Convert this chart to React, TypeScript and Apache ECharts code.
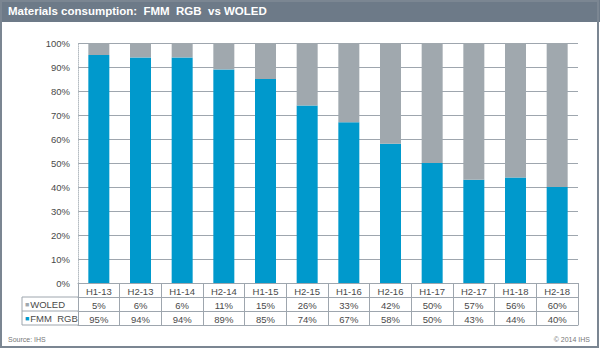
import React, { useEffect, useRef } from "react";
import * as echarts from "echarts";

const categories = ["H1-13", "H2-13", "H1-14", "H2-14", "H1-15", "H2-15", "H1-16", "H2-16", "H1-17", "H2-17", "H1-18", "H2-18"];
const fmmRgb = [95, 94, 94, 89, 85, 74, 67, 58, 50, 43, 44, 40];
const woled = [5, 6, 6, 11, 15, 26, 33, 42, 50, 57, 56, 60];
const yTicks = [0, 10, 20, 30, 40, 50, 60, 70, 80, 90, 100];

const BLUE = "#0099cc";
const GREY = "#a0a8ae";
const LINE = "#9ea6ae";
const TXT = "#4a4a4a";
const FONT = "'Liberation Sans', Arial, sans-serif";
const FS = 9.5;

export default function App() {
  const ref = useRef<HTMLDivElement>(null);
  useEffect(() => {
    if (!ref.current) return;
    const chart = echarts.init(ref.current, undefined, { renderer: "svg" });
    const gridLeft = 78;
    const gridRight = 22;
    const gridTop = 43;
    const gridBottom = 68;
    const baseY = 351 - gridBottom;
    const rowH = 14;
    const tableAxis = (data: string[], offset: number, showLabel: boolean) => ({
      type: "category" as const,
      position: "bottom" as const,
      gridIndex: 0,
      offset,
      data,
      axisLine: { show: true, lineStyle: { color: LINE, width: 1 } },
      axisTick: { show: false },
      axisLabel: { show: showLabel, interval: 0, margin: 3, fontSize: FS, color: TXT, fontFamily: FONT },
      splitLine: { show: false },
    });
    chart.setOption({
      animation: false,
      textStyle: { fontFamily: FONT },
      grid: { left: gridLeft, right: gridRight, top: gridTop, bottom: gridBottom },
      xAxis: [
        {
          type: "category",
          position: "bottom",
          data: categories,
          axisLine: { show: true, lineStyle: { color: LINE, width: 1 } },
          axisTick: { show: true, interval: 0, length: rowH * 3, lineStyle: { color: LINE, width: 1 } },
          axisLabel: { interval: 0, margin: 3, fontSize: FS, color: TXT, fontFamily: FONT },
          splitLine: { show: false },
        },
        tableAxis(woled.map((v) => v + "%"), rowH, true),
        tableAxis(fmmRgb.map((v) => v + "%"), rowH * 2, true),
        tableAxis(categories.map(() => ""), rowH * 3, false),
      ],
      yAxis: {
        type: "value",
        min: yTicks[0],
        max: yTicks[yTicks.length - 1],
        interval: 10,
        axisLine: { show: true, lineStyle: { color: "#b5bcc2", type: "dotted", width: 1 } },
        axisTick: { show: false },
        axisLabel: { formatter: "{value}%", fontSize: FS, color: TXT, margin: 8, fontFamily: FONT },
        splitLine: { show: true, lineStyle: { color: LINE, width: 1 } },
      },
      series: [
        {
          name: "FMM RGB",
          type: "bar",
          stack: "total",
          data: fmmRgb,
          barWidth: 21,
          itemStyle: { color: BLUE },
        },
        {
          name: "WOLED",
          type: "bar",
          stack: "total",
          data: woled,
          barWidth: 21,
          itemStyle: { color: GREY },
        },
      ],
      graphic: [
        { type: "rect", shape: { x: 0, y: 0, width: 600, height: 22 }, style: { fill: "#6d7a88" }, z: 0 },
        {
          type: "text",
          x: 8,
          y: 11,
          style: {
            text: "Materials consumption:  FMM  RGB  vs WOLED",
            fill: "#ffffff",
            font: "bold 11.5px " + FONT,
            verticalAlign: "middle",
          },
        },
        { type: "rect", shape: { x: 1, y: 1, width: 597, height: 346 }, style: { fill: "none", stroke: "#7b8692", lineWidth: 2 } },
        { type: "line", shape: { x1: 22, y1: baseY + rowH, x2: gridLeft, y2: baseY + rowH }, style: { stroke: LINE, lineWidth: 1 } },
        { type: "line", shape: { x1: 22, y1: baseY + rowH * 2, x2: gridLeft, y2: baseY + rowH * 2 }, style: { stroke: LINE, lineWidth: 1 } },
        { type: "line", shape: { x1: 22, y1: baseY + rowH * 3, x2: gridLeft, y2: baseY + rowH * 3 }, style: { stroke: LINE, lineWidth: 1 } },
        { type: "line", shape: { x1: 22, y1: baseY + rowH, x2: 22, y2: baseY + rowH * 3 }, style: { stroke: LINE, lineWidth: 1 } },
        {
          type: "text",
          x: 25,
          y: baseY + rowH * 1.5 + 0.5,
          style: {
            text: "{g|■}WOLED",
            rich: { g: { fill: GREY, fontSize: 7, padding: [0, 1, 0, 0] } },
            fill: TXT,
            font: FS + "px " + FONT,
            verticalAlign: "middle",
          },
        },
        {
          type: "text",
          x: 25,
          y: baseY + rowH * 2.5 + 0.5,
          style: {
            text: "{b|■}FMM  RGB",
            rich: { b: { fill: BLUE, fontSize: 7, padding: [0, 1, 0, 0] } },
            fill: TXT,
            font: FS + "px " + FONT,
            verticalAlign: "middle",
          },
        },
        {
          type: "text",
          x: 8,
          y: 339,
          style: { text: "Source: IHS", fill: "#777", font: "7px " + FONT, verticalAlign: "middle" },
        },
        {
          type: "text",
          x: 590,
          y: 339,
          style: { text: "© 2014 IHS", fill: "#777", font: "7px " + FONT, verticalAlign: "middle", align: "right" },
        },
      ],
    });
    return () => chart.dispose();
  }, []);
  return (
    <div
      ref={ref}
      style={{ position: "fixed", left: 0, top: 0, width: 600, height: 351, background: "#ffffff" }}
    />
  );
}
